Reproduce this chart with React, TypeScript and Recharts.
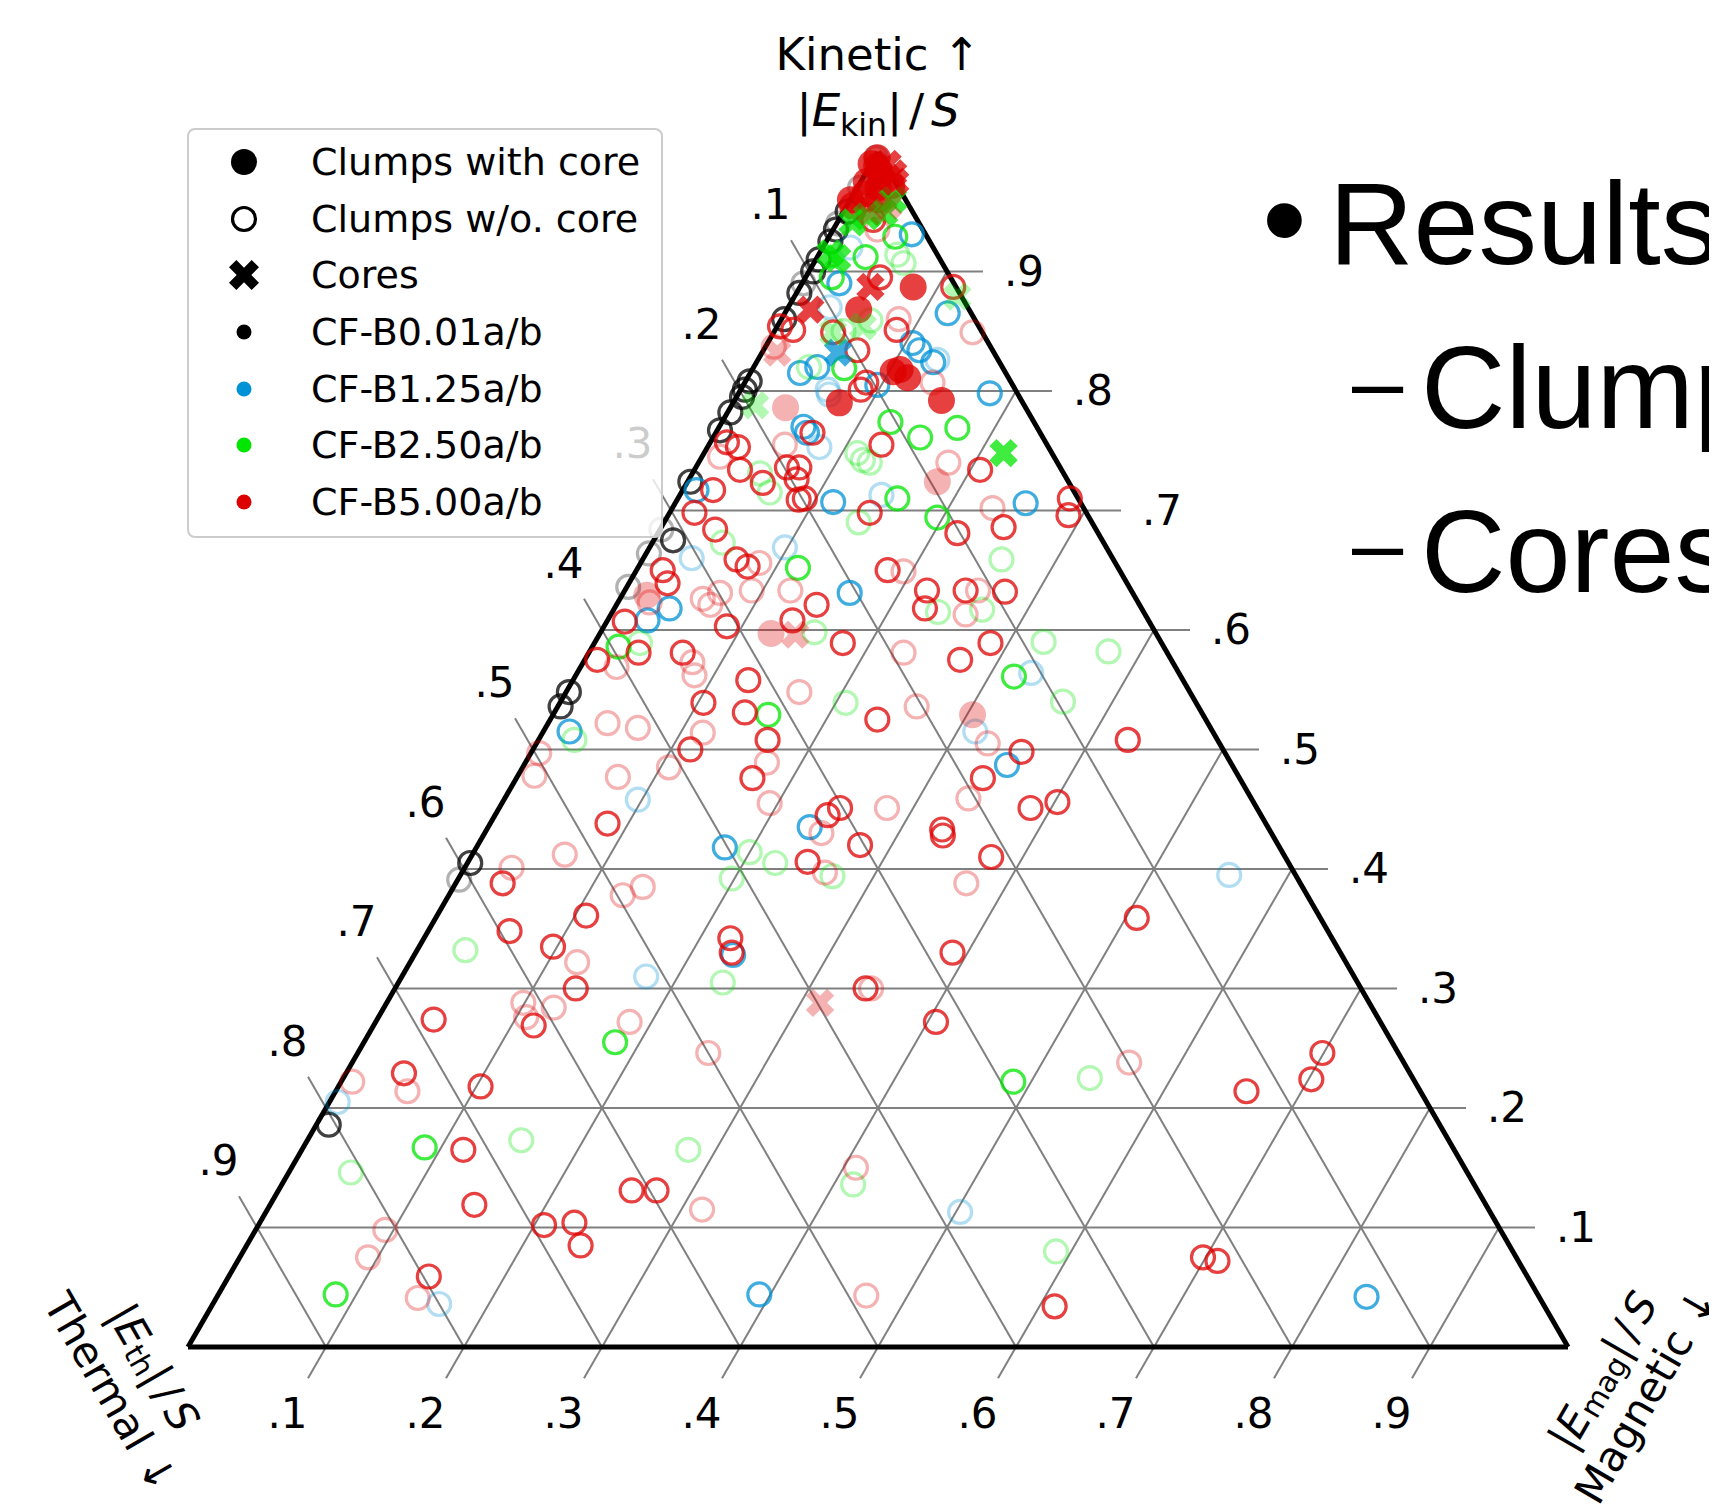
import React from "react"
import { ScatterChart, Scatter, XAxis, YAxis, ReferenceLine, Legend } from "recharts"

// every point is [kinetic, magnetic] fraction; thermal = 1 - kinetic - magnetic
type Pt = [number, number]

const TICKS = [0.1, 0.2, 0.3, 0.4, 0.5, 0.6, 0.7, 0.8, 0.9]
const TICK_LABELS = [".1", ".2", ".3", ".4", ".5", ".6", ".7", ".8", ".9"]

const LEGEND_ITEMS = ["Clumps with core", "Clumps w/o. core", "Cores", "CF-B0.01a/b", "CF-B1.25a/b", "CF-B2.50a/b", "CF-B5.00a/b"]

const BLACK_A_OPEN: Pt[] = [
  [0.186, 0.009], [0.405, 0.002], [0.536, 0.002], [0.548, 0.002], [0.675, 0.014], [0.724, 0.002],
  [0.767, 0.002], [0.782, 0.002], [0.795, 0.004], [0.801, 0.003], [0.808, 0.003], [0.860, 0.002],
  [0.882, 0.002], [0.900, 0.003], [0.910, 0.002], [0.925, 0.003], [0.935, 0.002], [0.950, 0.003],
]
const BLACK_B_OPEN: Pt[] = [
  [0.391, 0.001], [0.636, 0.001], [0.664, 0.002], [0.684, 0.001], [0.890, 0.001], [0.940, 0.001],
  [0.970, 0.002], [0.995, 0.001],
]

const BLUE_A_OPEN: Pt[] = [
  [0.044, 0.392], [0.042, 0.833], [0.328, 0.231], [0.418, 0.180], [0.435, 0.233], [0.631, 0.164],
  [0.608, 0.029], [0.618, 0.040], [0.707, 0.114], [0.717, 0.010], [0.487, 0.350], [0.515, 0.019],
  [0.706, 0.254], [0.770, 0.061], [0.765, 0.066], [0.931, 0.059], [0.890, 0.027], [0.865, 0.118],
  [0.840, 0.105], [0.815, 0.036], [0.798, 0.182], [0.805, 0.097], [0.834, 0.113], [0.824, 0.128],
  [0.820, 0.046],
]
const BLUE_B_OPEN: Pt[] = [
  [0.036, 0.164], [0.113, 0.503], [0.205, 0.006], [0.310, 0.177], [0.395, 0.557], [0.458, 0.097],
  [0.669, 0.098], [0.660, 0.035], [0.564, 0.329], [0.515, 0.313], [0.713, 0.146], [0.753, 0.081],
  [0.801, 0.063], [0.826, 0.130], [0.797, 0.066], [0.870, 0.030], [0.920, 0.020],
]

const GREEN_A_OPEN: Pt[] = [
  [0.044, 0.085], [0.167, 0.088], [0.222, 0.487], [0.255, 0.182], [0.586, 0.019], [0.652, 0.116],
  [0.529, 0.156], [0.561, 0.318], [0.710, 0.159], [0.694, 0.196], [0.761, 0.150], [0.769, 0.173],
  [0.774, 0.122], [0.929, 0.048], [0.912, 0.035], [0.819, 0.066], [0.895, 0.019],
]
const GREEN_B_OPEN: Pt[] = [
  [0.080, 0.589], [0.136, 0.414], [0.146, 0.045], [0.173, 0.155], [0.165, 0.280], [0.225, 0.541],
  [0.305, 0.235], [0.332, 0.035], [0.394, 0.270], [0.414, 0.200], [0.405, 0.223], [0.392, 0.198],
  [0.508, 0.026], [0.539, 0.207], [0.589, 0.033], [0.598, 0.155], [0.615, 0.236], [0.617, 0.267],
  [0.659, 0.260], [0.590, 0.325], [0.582, 0.376], [0.540, 0.364], [0.673, 0.051], [0.731, 0.049],
  [0.715, 0.064], [0.690, 0.141], [0.748, 0.111], [0.742, 0.118], [0.740, 0.124], [0.914, 0.057],
  [0.907, 0.065], [0.859, 0.065], [0.850, 0.050], [0.820, 0.040],
]

const RED_A_OPEN: Pt[] = [
  [0.059, 0.145], [0.034, 0.611], [0.075, 0.698], [0.072, 0.710], [0.102, 0.207], [0.104, 0.228],
  [0.085, 0.242], [0.131, 0.256], [0.131, 0.274], [0.119, 0.148], [0.165, 0.117], [0.229, 0.042],
  [0.218, 0.103], [0.214, 0.660], [0.224, 0.702], [0.246, 0.699], [0.274, 0.041], [0.269, 0.116],
  [0.300, 0.131], [0.300, 0.341], [0.272, 0.406], [0.330, 0.389], [0.359, 0.508], [0.348, 0.059],
  [0.335, 0.097], [0.361, 0.108], [0.342, 0.222], [0.330, 0.229], [0.388, 0.034], [0.406, 0.246],
  [0.420, 0.277], [0.428, 0.333], [0.410, 0.377], [0.451, 0.385], [0.456, 0.402],
  [0.736, 0.075], [0.726, 0.078], [0.709, 0.088], [0.710, 0.092], [0.723, 0.055], [0.734, 0.033],
  [0.717, 0.022], [0.698, 0.018], [0.684, 0.040], [0.659, 0.068], [0.653, 0.079], [0.650, 0.019],
  [0.639, 0.028], [0.603, 0.089], [0.621, 0.145], [0.608, 0.134], [0.589, 0.180], [0.650, 0.182],
  [0.633, 0.219], [0.618, 0.225], [0.633, 0.247], [0.632, 0.276], [0.589, 0.287], [0.575, 0.272],
  [0.476, 0.338], [0.525, 0.237], [0.558, 0.127], [0.531, 0.138], [0.508, 0.166], [0.476, 0.171],
  [0.451, 0.247], [0.445, 0.241], [0.433, 0.330], [0.539, 0.104], [0.500, 0.114], [0.438, 0.085],
  [0.581, 0.068], [0.581, 0.036], [0.575, 0.009], [0.607, 0.013], [0.698, 0.145], [0.681, 0.217],
  [0.734, 0.207], [0.686, 0.248], [0.755, 0.125], [0.710, 0.284], [0.696, 0.290], [0.508, 0.427],
  [0.498, 0.355], [0.765, 0.070], [0.757, 0.012], [0.753, 0.022], [0.736, 0.066],
  [0.895, 0.054], [0.887, 0.111], [0.851, 0.088], [0.851, 0.013], [0.849, 0.043], [0.834, 0.068],
  [0.943, 0.025], [0.854, 0.002], [0.801, 0.087], [0.807, 0.088],
]
const RED_B_OPEN: Pt[] = [
  [0.041, 0.146], [0.075, 0.093], [0.043, 0.470], [0.098, 0.094], [0.115, 0.315], [0.150, 0.409],
  [0.222, 0.008], [0.214, 0.052], [0.238, 0.563], [0.246, 0.254], [0.288, 0.099], [0.276, 0.107],
  [0.284, 0.123], [0.272, 0.184], [0.322, 0.121], [0.378, 0.126], [0.385, 0.137], [0.401, 0.034],
  [0.412, 0.067], [0.397, 0.263], [0.388, 0.370], [0.430, 0.244], [0.451, 0.281], [0.300, 0.345],
  [0.656, 0.086], [0.633, 0.120], [0.649, 0.194], [0.581, 0.228], [0.536, 0.260], [0.548, 0.169],
  [0.489, 0.175], [0.455, 0.194], [0.514, 0.116], [0.485, 0.106], [0.477, 0.073], [0.522, 0.043],
  [0.518, 0.067], [0.573, 0.079], [0.562, 0.086], [0.505, 0.327], [0.459, 0.336], [0.740, 0.181],
  [0.702, 0.232], [0.626, 0.060], [0.621, 0.068], [0.631, 0.070], [0.633, 0.092], [0.569, 0.026],
  [0.633, 0.256], [0.613, 0.257], [0.623, 0.023], [0.478, 0.012], [0.497, 0.006],
  [0.935, 0.032], [0.837, 0.006], [0.849, 0.144], [0.807, 0.136], [0.860, 0.085], [0.755, 0.055],
  [0.745, 0.013],
]

const RED_A_FILLED: Pt[] = [
  [0.995, 0.002], [0.990, 0.000], [0.985, 0.008], [0.980, 0.012], [0.975, 0.004], [0.970, 0.015],
  [0.965, 0.008], [0.960, 0.020], [0.955, 0.004], [0.972, 0.024], [0.988, 0.005], [0.960, 0.000],
  [0.887, 0.082], [0.868, 0.052], [0.818, 0.107], [0.811, 0.116], [0.790, 0.077], [0.792, 0.150],
  [0.816, 0.103],
]
const RED_B_FILLED: Pt[] = [
  [0.786, 0.040], [0.724, 0.181], [0.629, 0.018], [0.597, 0.124], [0.529, 0.304],
]

const GREEN_A_CORES: Pt[] = [
  [0.960, 0.031], [0.949, 0.030], [0.941, 0.011], [0.946, 0.019], [0.911, 0.015], [0.915, 0.008],
  [0.748, 0.217],
]
const GREEN_B_CORES: Pt[] = [
  [0.879, 0.118], [0.849, 0.043], [0.854, 0.062], [0.788, 0.017],
]
const BLUE_A_CORES: Pt[] = [[0.832, 0.055]]
const RED_A_CORES: Pt[] = [
  [0.982, 0.020], [0.975, 0.025], [0.990, 0.012], [0.887, 0.051], [0.868, 0.017],
]
const RED_B_CORES: Pt[] = [
  [0.960, 0.009], [0.950, 0.019], [0.955, 0.030], [0.832, 0.011], [0.596, 0.142], [0.288, 0.314],
]

const BLACK = "#000000"
const BLUE = "#0092d6"
const GREEN = "#00e600"
const RED = "#dd0000"
const ALPHA_A = 0.75
const ALPHA_B = 0.3

const SERIES = [
  { data: BLACK_A_OPEN, color: BLACK, alpha: ALPHA_A, marker: "open" },
  { data: BLACK_B_OPEN, color: BLACK, alpha: ALPHA_B, marker: "open" },
  { data: BLUE_A_OPEN, color: BLUE, alpha: ALPHA_A, marker: "open" },
  { data: BLUE_B_OPEN, color: BLUE, alpha: ALPHA_B, marker: "open" },
  { data: GREEN_A_OPEN, color: GREEN, alpha: ALPHA_A, marker: "open" },
  { data: GREEN_B_OPEN, color: GREEN, alpha: ALPHA_B, marker: "open" },
  { data: RED_A_OPEN, color: RED, alpha: ALPHA_A, marker: "open" },
  { data: RED_B_OPEN, color: RED, alpha: ALPHA_B, marker: "open" },
  { data: RED_A_FILLED, color: RED, alpha: ALPHA_A, marker: "filled" },
  { data: RED_B_FILLED, color: RED, alpha: ALPHA_B, marker: "filled" },
  { data: BLUE_A_CORES, color: BLUE, alpha: ALPHA_A, marker: "cross" },
  { data: GREEN_A_CORES, color: GREEN, alpha: ALPHA_A, marker: "cross" },
  { data: GREEN_B_CORES, color: GREEN, alpha: ALPHA_B, marker: "cross" },
  { data: RED_A_CORES, color: RED, alpha: ALPHA_A, marker: "cross" },
  { data: RED_B_CORES, color: RED, alpha: ALPHA_B, marker: "cross" },
]

// layout (chart pixels): triangle side 1380, bottom-left corner at (180, 1339)
const W = 1701
const H = 1496
const SIDE = 1380
const X0 = -180 / SIDE
const X1 = (W - 180) / SIDE
const Y0 = -(H - 1339) / SIDE
const Y1 = 1339 / SIDE
const S3 = Math.sqrt(3) / 2
const TL = 36 / SIDE // tick length
const LO = 77 / SIDE // label offset
const FONT = "DejaVu Sans"
const TITLE_SIZE = 45

const toXY = ([k, m]: Pt) => ({ x: m + k / 2, y: k * S3 })

const crossPath = (R: number, a: number) =>
  `M${-a},${-R}L${a},${-R}L${a},${-a}L${R},${-a}L${R},${a}L${a},${a}L${a},${R}L${-a},${R}L${-a},${a}L${-R},${a}L${-R},${-a}L${-a},${-a}Z`

const makeShape = (marker: string, color: string, alpha: number) => (p: any) => {
  if (marker === "open")
    return <circle cx={p.cx} cy={p.cy} r={11.5} fill="none" stroke={color} strokeOpacity={alpha} strokeWidth={3.2} />
  if (marker === "filled")
    return <circle cx={p.cx} cy={p.cy} r={13.5} fill={color} fillOpacity={alpha} />
  return <path d={crossPath(15, 5)} transform={`translate(${p.cx},${p.cy}) rotate(45)`} fill={color} fillOpacity={alpha} />
}

const rightLabels = TICKS.map((k, i) => ({ x: 1 - k / 2 + LO, y: k * S3, label: TICK_LABELS[i] }))
const leftLabels = TICKS.map((t, i) => ({ x: (1 - t) / 2 - LO / 2, y: (1 - t) * S3 + LO * S3, label: TICK_LABELS[i] }))
const bottomLabels = TICKS.map((m, i) => ({ x: m - LO / 2, y: -LO * S3, label: TICK_LABELS[i] }))

const labelShape = (p: any) => (
  <text x={p.cx} y={p.cy} textAnchor="middle" dominantBaseline="central" fontSize={42} fontFamily={FONT} fill="#000">
    {p.payload?.label ?? p.label}
  </text>
)

const mathLabel = (sub: string, size: number) => (
  <>
    |<tspan fontStyle="italic">E</tspan>
    <tspan fontSize={size * 0.7} dy={size * 0.22}>{sub}</tspan>
    <tspan dy={-size * 0.22}>|</tspan>
    <tspan dx={size * 0.15}>/</tspan>
    <tspan dx={size * 0.15} fontStyle="italic">S</tspan>
  </>
)

const titleShape = (p: any) => {
  const which = p.payload?.which ?? p.which
  if (which === "kin1")
    return <text x={p.cx} y={p.cy} textAnchor="middle" fontSize={TITLE_SIZE} fontFamily={FONT}>Kinetic ↑</text>
  if (which === "kin2")
    return <text x={p.cx} y={p.cy} textAnchor="middle" fontSize={TITLE_SIZE} fontFamily={FONT}>{mathLabel("kin", TITLE_SIZE)}</text>
  const rot = which === "th" ? 60 : -60
  return (
    <g transform={`translate(${p.cx},${p.cy}) rotate(${rot})`} fontFamily={FONT} fontSize={42}>
      <text x={0} y={-25} textAnchor="middle" dominantBaseline="central">{mathLabel(which === "th" ? "th" : "mag", 42)}</text>
      <text x={0} y={25} textAnchor="middle" dominantBaseline="central">{which === "th" ? "Thermal ↓" : "Magnetic ↓"}</text>
    </g>
  )
}

const titles = [
  { x: 0.5, y: (1347 - 70) / SIDE, which: "kin1" },
  { x: 0.5, y: (1347 - 126) / SIDE, which: "kin2" },
  { x: -0.0405, y: -0.0239, which: "th" },
  { x: 1.0409, y: -0.0261, which: "mag" },
]

const gridSegments = [
  ...TICKS.map((k) => [{ x: k / 2, y: k * S3 }, { x: 1 - k / 2 + TL, y: k * S3 }]),
  ...TICKS.map((t) => [{ x: (1 - t) / 2 - TL / 2, y: (1 - t) * S3 + TL * S3 }, { x: 1 - t, y: 0 }]),
  ...TICKS.map((m) => [{ x: m - TL / 2, y: -TL * S3 }, { x: (1 + m) / 2, y: (1 - m) * S3 }]),
]
const edges = [
  [{ x: 0, y: 0 }, { x: 1, y: 0 }],
  [{ x: 1, y: 0 }, { x: 0.5, y: S3 }],
  [{ x: 0.5, y: S3 }, { x: 0, y: 0 }],
]

const LegendBox = () => {
  const rows = [32, 89, 145, 202, 259, 315, 372]
  const mx = 55
  return (
    <div style={{ width: 476, height: 410, boxSizing: "border-box", background: "rgba(255,255,255,0.8)", border: "2.5px solid #cccccc", borderRadius: 8 }}>
      <svg width={472} height={406} style={{ display: "block", margin: -0.5 }}>
        <circle cx={mx} cy={rows[0]} r={13} fill="#000" />
        <circle cx={mx} cy={rows[1]} r={11.5} fill="none" stroke="#000" strokeWidth={3.2} />
        <path d={crossPath(16, 5.2)} transform={`translate(${mx},${rows[2]}) rotate(45)`} fill="#000" />
        <circle cx={mx} cy={rows[3]} r={7.5} fill={BLACK} />
        <circle cx={mx} cy={rows[4]} r={7.5} fill={BLUE} />
        <circle cx={mx} cy={rows[5]} r={7.5} fill={GREEN} />
        <circle cx={mx} cy={rows[6]} r={7.5} fill={RED} />
        {LEGEND_ITEMS.map((t, i) => (
          <text key={t} x={122} y={rows[i] + 13} fontSize={38} fontFamily={FONT} fill="#000">{t}</text>
        ))}
      </svg>
    </div>
  )
}

export default function App() {
  return (
    <div style={{ position: "relative", width: W, height: H }}>
      <ScatterChart width={W} height={H} margin={{ top: 0, right: 0, bottom: 0, left: 0 }}>
        <XAxis type="number" dataKey="x" domain={[X0, X1]} hide allowDataOverflow />
        <YAxis type="number" dataKey="y" domain={[Y0, Y1]} hide allowDataOverflow />
        {gridSegments.map((s, i) => (
          <ReferenceLine key={"g" + i} segment={s} stroke="#808080" strokeWidth={2} ifOverflow="visible" />
        ))}
        <Scatter data={rightLabels} shape={labelShape} isAnimationActive={false} />
        <Scatter data={leftLabels} shape={labelShape} isAnimationActive={false} />
        <Scatter data={bottomLabels} shape={labelShape} isAnimationActive={false} />
        <Scatter data={titles} shape={titleShape} isAnimationActive={false} />
        {SERIES.map((s, i) => (
          <Scatter key={"s" + i} data={s.data.map(toXY)} shape={makeShape(s.marker, s.color, s.alpha)} isAnimationActive={false} />
        ))}
        {edges.map((s, i) => (
          <ReferenceLine key={"e" + i} segment={s} stroke="#000" strokeWidth={5} ifOverflow="visible" />
        ))}
        <Legend
          layout="horizontal"
          verticalAlign="middle"
          align="center"
          wrapperStyle={{ left: 179, top: 120, width: 476, height: 410 }}
          content={() => <LegendBox />}
        />
      </ScatterChart>
      <svg width={1709} height={H} style={{ position: "absolute", left: 0, top: 0, pointerEvents: "none", overflow: "hidden" }}>
        <g fontFamily="Liberation Sans" fill="#000">
          <text x={1254} y={255} fontSize={128}>•</text>
          <text x={1321} y={256} fontSize={117}>Results</text>
          <text x={1344} y={405} fontSize={92}>–</text>
          <text x={1413} y={420} fontSize={117}>Clump</text>
          <text x={1344} y={567} fontSize={92}>–</text>
          <text x={1413} y={584} fontSize={117}>Cores</text>
        </g>
      </svg>
    </div>
  )
}
